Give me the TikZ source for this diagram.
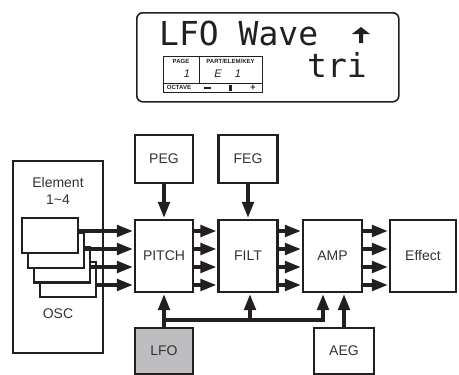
\documentclass[tikz,border=0pt]{standalone}
\usepackage{fontspec}
\setmainfont{Liberation Sans}
\newfontfamily\lcdfont{DejaVu Sans Mono}
\usetikzlibrary{arrows.meta}
\definecolor{ink}{RGB}{35,31,32}
\definecolor{lfogray}{RGB}{190,190,192}
\definecolor{txt}{RGB}{51,51,51}
\begin{document}
\begin{tikzpicture}[x=1pt,y=-1pt,
  blk/.style={draw=ink, line width=2.2pt, fill=white, inner sep=0pt,
    font=\fontsize{14}{14}\selectfont, text=txt},
  lbl/.style={font=\fontsize{14}{14}\selectfont, text=txt, inner sep=0pt},
  conn/.style={draw=ink, line width=3.5pt, shorten >=1pt,
    -{Triangle[length=16pt,width=11.5pt]}},
  tiny/.style={font=\fontsize{6}{6}\bfseries\selectfont, text=ink, inner sep=0pt},
  digit/.style={font=\fontsize{11}{11}\itshape\selectfont, text=ink, inner sep=0pt},
  lcdtxt/.style={font=\lcdfont\fontsize{33}{33}\selectfont, text=ink, inner sep=0pt, anchor=base west},
]
\useasboundingbox (0,0) rectangle (459,375);

% ---------- LCD display ----------
\node[draw=ink, line width=1.6pt, rounded corners=6pt, minimum width=262pt,
  minimum height=89pt, inner sep=0pt, anchor=north west] (lcd) at (136,12) {};
\node[lcdtxt] (lcdtop) at (159,45) {LFO Wave};
\node[lcdtxt] (lcdval) at (307,77) {tri};
\fill[ink] (361,27) -- (370,34) -- (363,34) -- (363,43) -- (359,43) -- (359,34) -- (352,34) -- cycle;

\node[draw=ink, line width=0.9pt, minimum width=99pt, minimum height=36pt,
  anchor=north west, inner sep=0pt] (panel) at (163,56) {};
\draw[ink, line width=0.9pt] (panel.west |- 0,83) -- (panel.east |- 0,83);
\draw[ink, line width=0.9pt] (199,56) -- (199,83);
\node[tiny] (pagelbl) at (181,61.5) {PAGE};
\node[tiny] (partlbl) at (230.5,61.5) {PART/ELEM/KEY};
\node[digit] (pagenum) at (187,73.5) {1};
\node[digit] (elemE) at (218,73.5) {E};
\node[digit] (elemnum) at (238,73.5) {1};
\node[tiny] (octlbl) at (179,87.8) {OCTAVE};
\fill[ink] (204,86.6) rectangle (211,88.8);
\fill[ink] (229,84.6) rectangle (231.8,91.2);
\node[font=\fontsize{9}{9}\bfseries\selectfont, text=ink, inner sep=0pt] (plus) at (253,87.6) {+};

% ---------- Element / OSC ----------
\node[blk, minimum width=90pt, minimum height=192pt] (elem) at (58,257) {};
\node[lbl] (elemlbl) at (58,182) {Element};
\node[lbl] (elemrange) at (58,200) {1{\char`\~}4};
\node[lbl] (osclbl) at (58,314) {OSC};
\node[blk, minimum width=56pt, minimum height=35pt] (osc4) at (68,279.6) {};
\node[blk, minimum width=56pt, minimum height=35pt] (osc3) at (62,264.9) {};
\node[blk, minimum width=56pt, minimum height=35pt] (osc2) at (56,250.2) {};
\node[blk, minimum width=56pt, minimum height=35pt] (osc1) at (50,235.5) {};

% ---------- main blocks ----------
\node[blk, minimum width=58pt, minimum height=72pt] (pitch) at (164,256) {PITCH};
\node[blk, minimum width=59pt, minimum height=72pt] (filt) at (248,256) {FILT};
\node[blk, minimum width=59pt, minimum height=72pt] (amp) at (332.5,256) {AMP};
\node[blk, minimum width=66pt, minimum height=72pt] (effect) at (423,256) {Effect};
\node[blk, minimum width=58pt, minimum height=48pt] (peg) at (164,159) {PEG};
\node[blk, minimum width=59pt, minimum height=48pt] (feg) at (248,159) {FEG};
\node[blk, minimum width=58pt, minimum height=46pt, fill=lfogray] (lfo) at (164,351) {LFO};
\node[blk, minimum width=60pt, minimum height=46pt] (aeg) at (344,351) {AEG};

% ---------- connectors ----------
\draw[conn] (osc1.east |- 0,231) -- (pitch.west |- 0,231);
\draw[conn] (osc2.east |- 0,249) -- (pitch.west |- 0,249);
\draw[conn] (osc3.east |- 0,267) -- (pitch.west |- 0,267);
\draw[conn] (osc4.east |- 0,285) -- (pitch.west |- 0,285);
\foreach \yy in {231,249,267,285}{
  \draw[conn] (pitch.east |- 0,\yy) -- (filt.west |- 0,\yy);
  \draw[conn] (filt.east |- 0,\yy) -- (amp.west |- 0,\yy);
  \draw[conn] (amp.east |- 0,\yy) -- (effect.west |- 0,\yy);
}
\draw[conn] (peg.south) -- (pitch.north);
\draw[conn] (feg.south) -- (filt.north);

\coordinate (jl) at (164,320);
\coordinate (jf) at (250,320);
\coordinate (ja) at (323,320);
\draw[conn] (lfo.north) -- (jl) -- (pitch.south);
\draw[conn, line join=miter] (jl) -- (ja) -- (ja |- amp.south);
\draw[conn] (jf) -- (jf |- filt.south);
\draw[conn] (aeg.north) -- (aeg.north |- amp.south);
\end{tikzpicture}
\end{document}
